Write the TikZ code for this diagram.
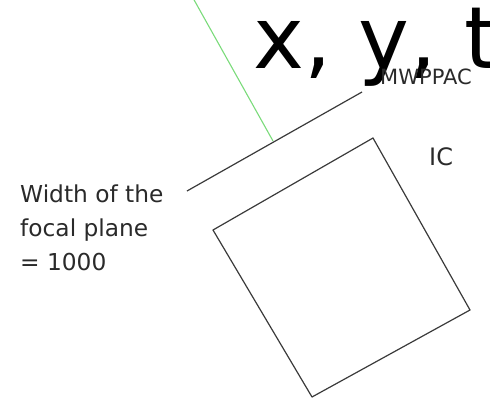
\documentclass[tikz,border=0pt]{standalone}
\usepackage{fontspec}
\setmainfont{DejaVu Sans}
\definecolor{edgegray}{HTML}{3A3A3A}
\definecolor{beamgreen}{HTML}{7ADB7A}
\definecolor{labelgray}{HTML}{2A2A2A}
\begin{document}
\begin{tikzpicture}[x=1pt,y=-1pt,
  edge/.style={draw=edgegray,line width=1.2pt},
  beam/.style={draw=beamgreen,line width=1.1pt},
  lbl/.style={anchor=base west,inner sep=0pt,text=labelgray}]
\useasboundingbox (0,0) rectangle (490,405);
\clip (0,0) rectangle (490,405);
% beam
\coordinate (b0) at (193,-2);
\coordinate (b1) at (273,141);
\draw[beam] (b0) -- (b1);
% MWPPAC focal plane
\coordinate (m0) at (187,191);
\coordinate (m1) at (362,92);
\draw[edge] (m0) -- (m1);
% IC square
\coordinate (q1) at (213,230);
\coordinate (q2) at (373,138);
\coordinate (q3) at (470,310);
\coordinate (q4) at (312,397);
\draw[edge,line join=round] (q1) -- (q2) -- (q3) -- (q4) -- cycle;
% texts
\node[anchor=base west,inner sep=0pt,text=black] (xyt) at (253,68)
  {\fontsize{86}{86}\selectfont x, y, t};
\node[lbl] (mw) at (380,84) {\fontsize{21}{21}\selectfont MWPPAC};
\node[lbl] (ic) at (429,165) {\fontsize{24}{24}\selectfont IC};
\node[lbl] (w1) at (20,202) {\fontsize{23.3}{23.3}\selectfont Width of the};
\node[lbl] (w2) at (20,236) {\fontsize{23.3}{23.3}\selectfont focal plane};
\node[lbl] (w3) at (20,270) {\fontsize{23.3}{23.3}\selectfont = 1000};
\end{tikzpicture}
\end{document}
